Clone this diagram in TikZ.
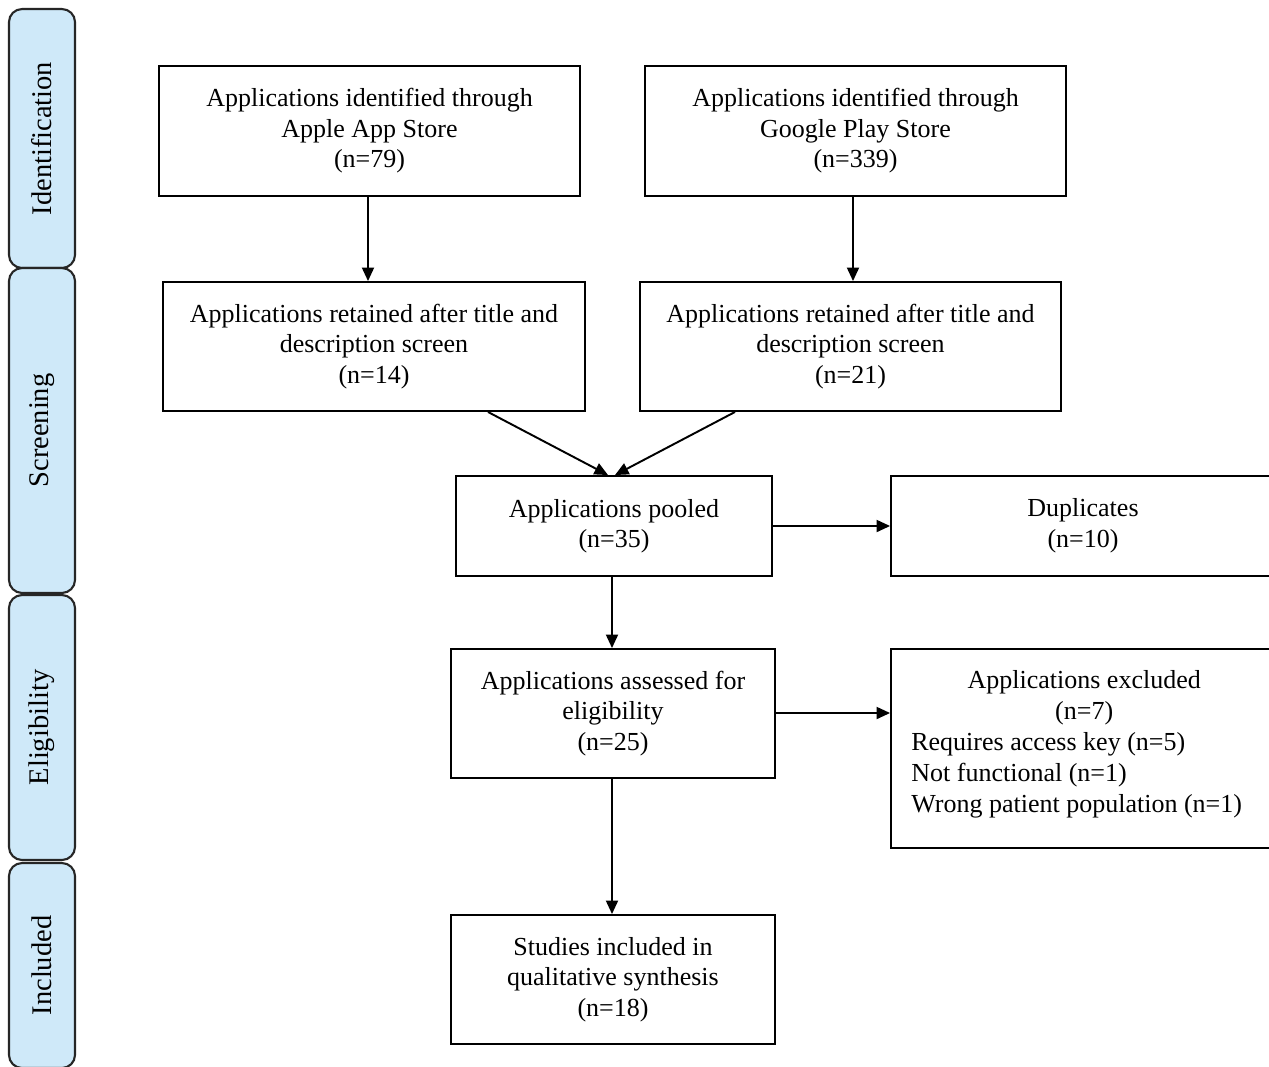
\documentclass[tikz,border=0pt]{standalone}
\usepackage{fontspec}
\setmainfont{Liberation Serif}
\usetikzlibrary{arrows.meta,calc}
\definecolor{phasefill}{HTML}{CFE9F9}
\tikzset{
  box/.style={draw=black, line width=1.1pt, fill=white, align=center, inner sep=0pt,
    font=\fontsize{14.8}{17.3}\selectfont},
  phase/.style={draw=black!85, line width=1.2pt, fill=phasefill, rounded corners=0.26cm,
    rotate=90, inner sep=0pt, font=\fontsize{16.2}{19}\selectfont, minimum height=1.32cm},
  arr/.style={line width=1.1pt, -{Triangle[length=0.27cm,width=0.24cm]}},
  txt/.style={inner sep=0pt, align=center, font=\fontsize{14.8}{17.6}\selectfont}
}
\begin{document}
\begin{tikzpicture}[x=0.02cm,y=-0.02cm]
\useasboundingbox (0,0) rectangle (1269,1066);
\clip (0,0) rectangle (1269,1066);
\fill[white] (0,0) rectangle (1269,1066);

% phase bars
\node[phase, minimum width=5.18cm] (p1) at (42,138.5) {Identification};
\node[phase, minimum width=6.50cm] (p2) at (42,430.5) {Screening};
\node[phase, minimum width=5.30cm] (p3) at (42,727.5) {Eligibility};
\node[phase, minimum width=4.10cm] (p4) at (42,965.5) {Included};

% boxes
\node[box, minimum width=8.42cm, minimum height=2.6cm] (A) at (369.5,131)
  {Applications identified through\\Apple App Store\\(n=79)};
\node[box, minimum width=8.42cm, minimum height=2.6cm] (B) at (855.5,131)
  {Applications identified through\\Google Play Store\\(n=339)};
\node[box, minimum width=8.44cm, minimum height=2.58cm] (C) at (374,346.5)
  {Applications retained after title and\\description screen\\(n=14)};
\node[box, minimum width=8.42cm, minimum height=2.58cm] (D) at (850.5,346.5)
  {Applications retained after title and\\description screen\\(n=21)};
\node[box, minimum width=6.32cm, minimum height=2.0cm] (E) at (614,526)
  {Applications pooled\\(n=35)};
\node[box, minimum width=7.68cm, minimum height=2.0cm, text depth=0.12cm] (F) at (1083,526)
  {Duplicates\\(n=10)};
\node[box, minimum width=6.48cm, minimum height=2.58cm] (G) at (613,713.5)
  {Applications assessed for\\eligibility\\(n=25)};
\node[box, minimum width=7.68cm, minimum height=3.98cm] (H) at (1083,748.5) {};
\node[txt, anchor=west] (Ht) at (911,744)
  {\begin{tabular}{@{}l@{}}
   \multicolumn{1}{@{}c@{}}{\hspace*{0.3cm}Applications excluded}\\
   \multicolumn{1}{@{}c@{}}{\hspace*{0.3cm}(n=7)}\\
   Requires access key (n=5)\\
   Not functional (n=1)\\
   Wrong patient population (n=1)
   \end{tabular}};
\node[box, minimum width=6.48cm, minimum height=2.58cm] (I) at (613,979.5)
  {Studies included in\\qualitative synthesis\\(n=18)};

% connectors
\draw[arr] ([xshift=-0.03cm]A.south) -- ([xshift=-0.03cm]A.south |- C.north);
\draw[arr] ([xshift=-0.05cm]B.south) -- ([xshift=-0.05cm]B.south |- D.north);
\coordinate (cs) at ([xshift=2.28cm]C.south);
\coordinate (ds) at ([xshift=-2.31cm]D.south);
\coordinate (e1) at ([xshift=-0.12cm]E.north);
\coordinate (e2) at ([xshift=0.02cm]E.north);
\draw[arr] (cs) -- (e1);
\draw[arr] (ds) -- (e2);
\draw[arr] ([xshift=-0.04cm]E.south) -- ([xshift=-0.04cm]E.south |- G.north);
\draw[arr] (E.east) -- (E.east -| F.west);
\draw[arr] ([yshift=0.01cm]G.east) -- ([yshift=0.01cm]G.east -| H.west);
\draw[arr] ([xshift=-0.02cm]G.south) -- ([xshift=-0.02cm]G.south |- I.north);
\end{tikzpicture}
\end{document}
